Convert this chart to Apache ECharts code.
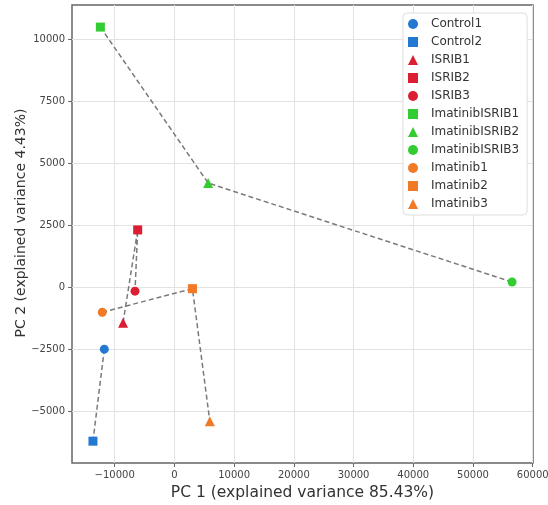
<!DOCTYPE html>
<html><head><meta charset="utf-8">
<script src="https://cdn.jsdelivr.net/npm/echarts@6/dist/echarts.min.js"></script>
<style>html,body{margin:0;padding:0;background:#fff}#c{width:548px;height:505px}</style>
</head><body><div id="c"></div>
<script>
const sampleNames = ["Control1","Control2","ISRIB1","ISRIB2","ISRIB3","ImatinibISRIB1","ImatinibISRIB2","ImatinibISRIB3","Imatinib1","Imatinib2","Imatinib3"];
const pc1 = [-11740,-13640,-8600,-6150,-6600,-12400,5650,56540,-12080,3020,5930];
const pc2 = [-2510,-6220,-1440,2300,-170,10480,4190,200,-1020,-70,-5420];
const sampleShapes = ["circle","rect","triangle","rect","circle","rect","triangle","circle","circle","rect","triangle"];
const sampleColors = ["#2379d2","#2379d2","#dc1e32","#dc1e32","#dc1e32","#33cc33","#33cc33","#33cc33","#f07a26","#f07a26","#f07a26"];
const groups = [["Control1","Control2"],["ISRIB1","ISRIB2","ISRIB3"],["ImatinibISRIB1","ImatinibISRIB2","ImatinibISRIB3"],["Imatinib1","Imatinib2","Imatinib3"]];
const xTicks = [-10000,0,10000,20000,30000,40000,50000,60000];
const yTicks = [-5000,-2500,0,2500,5000,7500,10000];

const series = [];
groups.forEach(g => {
  series.push({type:'line', data:g.map(n=>{const i=sampleNames.indexOf(n);return [pc1[i],pc2[i]];}),
    symbol:'none', lineStyle:{color:'#7a7a7a', type:[5,3], width:1.5}, z:1, silent:true});
});
sampleNames.forEach((n,i)=>{
  series.push({type:'scatter', name:n, data:[[pc1[i],pc2[i]]], symbol:sampleShapes[i],
    symbolSize: sampleShapes[i]==='triangle'?10:9, itemStyle:{color:sampleColors[i], opacity:1}, z:3});
});
const fmt = v => String(v).replace('-', '\u2212');
const chart = echarts.init(document.getElementById('c'));
chart.setOption({
  animation:false,
  textStyle:{fontFamily:'DejaVu Sans'},
  grid:{left:72, right:15, top:5, bottom:42, outerBoundsMode:'none', containLabel:false,
    show:true, borderColor:'#666', borderWidth:1.5, backgroundColor:'transparent'},
  xAxis:{type:'value', min:-17150, max:60050,
    name:'PC 1 (explained variance 85.43%)', nameLocation:'middle', nameGap:21,
    nameTextStyle:{fontSize:15.5, color:'#333'},
    axisLine:{show:false, onZero:false},
    axisTick:{show:true, customValues:xTicks, length:4, lineStyle:{color:'#666'}},
    axisLabel:{customValues:xTicks, formatter:fmt, fontSize:10, color:'#444', margin:7},
    splitLine:{show:true, customValues:xTicks, lineStyle:{color:'#e3e3e3', width:1}}},
  yAxis:{type:'value', min:-7100, max:11370,
    name:'PC 2 (explained variance 4.43%)', nameLocation:'middle', nameGap:44, nameMoveOverlap:false,
    nameTextStyle:{fontSize:14, color:'#333', padding:[0,0,0,22]},
    axisLine:{show:false, onZero:false},
    axisTick:{show:true, customValues:yTicks, length:4, lineStyle:{color:'#666'}},
    axisLabel:{customValues:yTicks, formatter:fmt, fontSize:10, color:'#444', margin:7},
    splitLine:{show:true, customValues:yTicks, lineStyle:{color:'#e3e3e3', width:1}}},
  legend:{orient:'vertical', left:403, top:13, itemWidth:10, itemHeight:10, itemGap:6,
    padding:[5,8,5,5], borderColor:'#dddddd', borderWidth:1, borderRadius:4, backgroundColor:'#fff',
    textStyle:{fontSize:12, color:'#333', padding:[0,0,0,8]}, data:sampleNames},
  series
});
</script></body></html>
